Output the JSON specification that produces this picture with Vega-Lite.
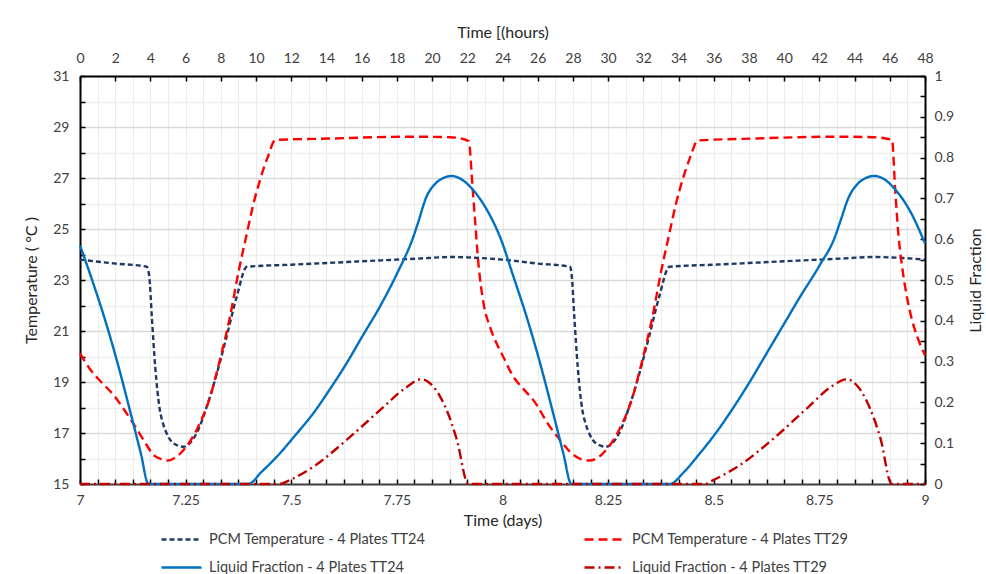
{
  "$schema": "https://vega.github.io/schema/vega-lite/v6.json",
  "width": 845,
  "height": 408,
  "autosize": {"type": "none"},
  "padding": {"left": 80, "top": 76, "right": 61, "bottom": 90},
  "background": "white",
  "config": {
    "font": "Lato",
    "view": {"stroke": null},
    "axis": {
      "labelFont": "Lato",
      "titleFont": "Lato",
      "labelFontSize": 14,
      "titleFontSize": 16,
      "titleFontWeight": "normal",
      "labelColor": "#404040",
      "titleColor": "#262626",
      "tickColor": "#000000",
      "tickWidth": 1.5,
      "domainColor": "#000000",
      "domainWidth": 2
    },
    "legend": {
      "title": null,
      "orient": "none",
      "legendX": 80,
      "legendY": 442,
      "columns": 2,
      "columnPadding": 153,
      "rowPadding": -18,
      "symbolType": "stroke",
      "symbolSize": 1600,
      "symbolStrokeWidth": 2.5,
      "labelFont": "Lato",
      "labelFontSize": 14.5,
      "labelColor": "#404040",
      "labelOffset": 6,
      "labelLimit": 400
    }
  },
  "datasets": {
    "temp": [
      {"s": "PCM Temperature - 4 Plates TT24", "d": 7.0, "v": 23.8},
      {"s": "PCM Temperature - 4 Plates TT24", "d": 7.08, "v": 23.65},
      {"s": "PCM Temperature - 4 Plates TT24", "d": 7.158, "v": 23.52},
      {"s": "PCM Temperature - 4 Plates TT24", "d": 7.164, "v": 23.13},
      {"s": "PCM Temperature - 4 Plates TT24", "d": 7.17, "v": 21.56},
      {"s": "PCM Temperature - 4 Plates TT24", "d": 7.178, "v": 19.6},
      {"s": "PCM Temperature - 4 Plates TT24", "d": 7.189, "v": 17.9},
      {"s": "PCM Temperature - 4 Plates TT24", "d": 7.197, "v": 17.35},
      {"s": "PCM Temperature - 4 Plates TT24", "d": 7.205, "v": 16.99},
      {"s": "PCM Temperature - 4 Plates TT24", "d": 7.221, "v": 16.6},
      {"s": "PCM Temperature - 4 Plates TT24", "d": 7.245, "v": 16.46},
      {"s": "PCM Temperature - 4 Plates TT24", "d": 7.26, "v": 16.6},
      {"s": "PCM Temperature - 4 Plates TT24", "d": 7.276, "v": 16.99},
      {"s": "PCM Temperature - 4 Plates TT24", "d": 7.3, "v": 18.03},
      {"s": "PCM Temperature - 4 Plates TT24", "d": 7.324, "v": 19.34},
      {"s": "PCM Temperature - 4 Plates TT24", "d": 7.347, "v": 20.78},
      {"s": "PCM Temperature - 4 Plates TT24", "d": 7.371, "v": 22.35},
      {"s": "PCM Temperature - 4 Plates TT24", "d": 7.395, "v": 23.52},
      {"s": "PCM Temperature - 4 Plates TT24", "d": 7.5, "v": 23.6},
      {"s": "PCM Temperature - 4 Plates TT24", "d": 7.6, "v": 23.68},
      {"s": "PCM Temperature - 4 Plates TT24", "d": 7.7, "v": 23.76},
      {"s": "PCM Temperature - 4 Plates TT24", "d": 7.8, "v": 23.84},
      {"s": "PCM Temperature - 4 Plates TT24", "d": 7.88, "v": 23.9},
      {"s": "PCM Temperature - 4 Plates TT24", "d": 7.95, "v": 23.86},
      {"s": "PCM Temperature - 4 Plates TT24", "d": 8.0, "v": 23.8},
      {"s": "PCM Temperature - 4 Plates TT24", "d": 8.08, "v": 23.65},
      {"s": "PCM Temperature - 4 Plates TT24", "d": 8.16, "v": 23.52},
      {"s": "PCM Temperature - 4 Plates TT24", "d": 8.164, "v": 23.13},
      {"s": "PCM Temperature - 4 Plates TT24", "d": 8.17, "v": 21.56},
      {"s": "PCM Temperature - 4 Plates TT24", "d": 8.178, "v": 19.6},
      {"s": "PCM Temperature - 4 Plates TT24", "d": 8.189, "v": 17.9},
      {"s": "PCM Temperature - 4 Plates TT24", "d": 8.197, "v": 17.35},
      {"s": "PCM Temperature - 4 Plates TT24", "d": 8.205, "v": 16.99},
      {"s": "PCM Temperature - 4 Plates TT24", "d": 8.221, "v": 16.6},
      {"s": "PCM Temperature - 4 Plates TT24", "d": 8.245, "v": 16.46},
      {"s": "PCM Temperature - 4 Plates TT24", "d": 8.26, "v": 16.6},
      {"s": "PCM Temperature - 4 Plates TT24", "d": 8.276, "v": 16.99},
      {"s": "PCM Temperature - 4 Plates TT24", "d": 8.3, "v": 18.03},
      {"s": "PCM Temperature - 4 Plates TT24", "d": 8.324, "v": 19.34},
      {"s": "PCM Temperature - 4 Plates TT24", "d": 8.347, "v": 20.78},
      {"s": "PCM Temperature - 4 Plates TT24", "d": 8.371, "v": 22.35},
      {"s": "PCM Temperature - 4 Plates TT24", "d": 8.395, "v": 23.52},
      {"s": "PCM Temperature - 4 Plates TT24", "d": 8.5, "v": 23.6},
      {"s": "PCM Temperature - 4 Plates TT24", "d": 8.6, "v": 23.68},
      {"s": "PCM Temperature - 4 Plates TT24", "d": 8.7, "v": 23.76},
      {"s": "PCM Temperature - 4 Plates TT24", "d": 8.8, "v": 23.84},
      {"s": "PCM Temperature - 4 Plates TT24", "d": 8.88, "v": 23.9},
      {"s": "PCM Temperature - 4 Plates TT24", "d": 8.95, "v": 23.86},
      {"s": "PCM Temperature - 4 Plates TT24", "d": 9.0, "v": 23.8},

      {"s": "PCM Temperature - 4 Plates TT29", "d": 7.0, "v": 20.12},
      {"s": "PCM Temperature - 4 Plates TT29", "d": 7.026, "v": 19.45},
      {"s": "PCM Temperature - 4 Plates TT29", "d": 7.05, "v": 19.0},
      {"s": "PCM Temperature - 4 Plates TT29", "d": 7.079, "v": 18.5},
      {"s": "PCM Temperature - 4 Plates TT29", "d": 7.105, "v": 17.9},
      {"s": "PCM Temperature - 4 Plates TT29", "d": 7.126, "v": 17.38},
      {"s": "PCM Temperature - 4 Plates TT29", "d": 7.142, "v": 16.95},
      {"s": "PCM Temperature - 4 Plates TT29", "d": 7.158, "v": 16.52},
      {"s": "PCM Temperature - 4 Plates TT29", "d": 7.175, "v": 16.12},
      {"s": "PCM Temperature - 4 Plates TT29", "d": 7.189, "v": 16.0},
      {"s": "PCM Temperature - 4 Plates TT29", "d": 7.207, "v": 15.92},
      {"s": "PCM Temperature - 4 Plates TT29", "d": 7.222, "v": 16.0},
      {"s": "PCM Temperature - 4 Plates TT29", "d": 7.245, "v": 16.33},
      {"s": "PCM Temperature - 4 Plates TT29", "d": 7.276, "v": 17.12},
      {"s": "PCM Temperature - 4 Plates TT29", "d": 7.308, "v": 18.42},
      {"s": "PCM Temperature - 4 Plates TT29", "d": 7.331, "v": 19.86},
      {"s": "PCM Temperature - 4 Plates TT29", "d": 7.355, "v": 21.56},
      {"s": "PCM Temperature - 4 Plates TT29", "d": 7.375, "v": 23.3},
      {"s": "PCM Temperature - 4 Plates TT29", "d": 7.395, "v": 24.83},
      {"s": "PCM Temperature - 4 Plates TT29", "d": 7.41, "v": 25.95},
      {"s": "PCM Temperature - 4 Plates TT29", "d": 7.426, "v": 26.92},
      {"s": "PCM Temperature - 4 Plates TT29", "d": 7.445, "v": 27.85},
      {"s": "PCM Temperature - 4 Plates TT29", "d": 7.462, "v": 28.49},
      {"s": "PCM Temperature - 4 Plates TT29", "d": 7.6, "v": 28.55},
      {"s": "PCM Temperature - 4 Plates TT29", "d": 7.7, "v": 28.6},
      {"s": "PCM Temperature - 4 Plates TT29", "d": 7.789, "v": 28.62},
      {"s": "PCM Temperature - 4 Plates TT29", "d": 7.876, "v": 28.6},
      {"s": "PCM Temperature - 4 Plates TT29", "d": 7.92, "v": 28.45},
      {"s": "PCM Temperature - 4 Plates TT29", "d": 7.929, "v": 26.66},
      {"s": "PCM Temperature - 4 Plates TT29", "d": 7.935, "v": 25.35},
      {"s": "PCM Temperature - 4 Plates TT29", "d": 7.943, "v": 23.65},
      {"s": "PCM Temperature - 4 Plates TT29", "d": 7.955, "v": 22.09},
      {"s": "PCM Temperature - 4 Plates TT29", "d": 7.97, "v": 21.17},
      {"s": "PCM Temperature - 4 Plates TT29", "d": 7.985, "v": 20.55},
      {"s": "PCM Temperature - 4 Plates TT29", "d": 8.0, "v": 20.05},
      {"s": "PCM Temperature - 4 Plates TT29", "d": 8.026, "v": 19.2},
      {"s": "PCM Temperature - 4 Plates TT29", "d": 8.05, "v": 18.72},
      {"s": "PCM Temperature - 4 Plates TT29", "d": 8.073, "v": 18.29},
      {"s": "PCM Temperature - 4 Plates TT29", "d": 8.112, "v": 17.25},
      {"s": "PCM Temperature - 4 Plates TT29", "d": 8.136, "v": 16.73},
      {"s": "PCM Temperature - 4 Plates TT29", "d": 8.168, "v": 16.14},
      {"s": "PCM Temperature - 4 Plates TT29", "d": 8.185, "v": 15.98},
      {"s": "PCM Temperature - 4 Plates TT29", "d": 8.205, "v": 15.92},
      {"s": "PCM Temperature - 4 Plates TT29", "d": 8.222, "v": 16.0},
      {"s": "PCM Temperature - 4 Plates TT29", "d": 8.245, "v": 16.33},
      {"s": "PCM Temperature - 4 Plates TT29", "d": 8.276, "v": 17.12},
      {"s": "PCM Temperature - 4 Plates TT29", "d": 8.308, "v": 18.42},
      {"s": "PCM Temperature - 4 Plates TT29", "d": 8.331, "v": 19.86},
      {"s": "PCM Temperature - 4 Plates TT29", "d": 8.355, "v": 21.56},
      {"s": "PCM Temperature - 4 Plates TT29", "d": 8.375, "v": 23.3},
      {"s": "PCM Temperature - 4 Plates TT29", "d": 8.395, "v": 24.83},
      {"s": "PCM Temperature - 4 Plates TT29", "d": 8.41, "v": 25.95},
      {"s": "PCM Temperature - 4 Plates TT29", "d": 8.426, "v": 26.92},
      {"s": "PCM Temperature - 4 Plates TT29", "d": 8.445, "v": 27.85},
      {"s": "PCM Temperature - 4 Plates TT29", "d": 8.462, "v": 28.47},
      {"s": "PCM Temperature - 4 Plates TT29", "d": 8.6, "v": 28.55},
      {"s": "PCM Temperature - 4 Plates TT29", "d": 8.7, "v": 28.6},
      {"s": "PCM Temperature - 4 Plates TT29", "d": 8.789, "v": 28.62},
      {"s": "PCM Temperature - 4 Plates TT29", "d": 8.876, "v": 28.6},
      {"s": "PCM Temperature - 4 Plates TT29", "d": 8.922, "v": 28.5},
      {"s": "PCM Temperature - 4 Plates TT29", "d": 8.929, "v": 26.66},
      {"s": "PCM Temperature - 4 Plates TT29", "d": 8.937, "v": 24.8},
      {"s": "PCM Temperature - 4 Plates TT29", "d": 8.946, "v": 23.5},
      {"s": "PCM Temperature - 4 Plates TT29", "d": 8.96, "v": 22.1},
      {"s": "PCM Temperature - 4 Plates TT29", "d": 8.975, "v": 21.1},
      {"s": "PCM Temperature - 4 Plates TT29", "d": 8.988, "v": 20.5},
      {"s": "PCM Temperature - 4 Plates TT29", "d": 9.0, "v": 20.05}
    ],
    "lf": [
      {"s": "Liquid Fraction - 4 Plates TT24", "d": 7.0, "v": 0.585},
      {"s": "Liquid Fraction - 4 Plates TT24", "d": 7.026, "v": 0.508},
      {"s": "Liquid Fraction - 4 Plates TT24", "d": 7.057, "v": 0.41},
      {"s": "Liquid Fraction - 4 Plates TT24", "d": 7.089, "v": 0.296},
      {"s": "Liquid Fraction - 4 Plates TT24", "d": 7.12, "v": 0.173},
      {"s": "Liquid Fraction - 4 Plates TT24", "d": 7.144, "v": 0.075},
      {"s": "Liquid Fraction - 4 Plates TT24", "d": 7.162, "v": 0.0},
      {"s": "Liquid Fraction - 4 Plates TT24", "d": 7.398, "v": 0.0},
      {"s": "Liquid Fraction - 4 Plates TT24", "d": 7.43, "v": 0.03},
      {"s": "Liquid Fraction - 4 Plates TT24", "d": 7.473, "v": 0.075},
      {"s": "Liquid Fraction - 4 Plates TT24", "d": 7.51, "v": 0.12},
      {"s": "Liquid Fraction - 4 Plates TT24", "d": 7.552, "v": 0.173},
      {"s": "Liquid Fraction - 4 Plates TT24", "d": 7.59, "v": 0.23},
      {"s": "Liquid Fraction - 4 Plates TT24", "d": 7.631, "v": 0.296},
      {"s": "Liquid Fraction - 4 Plates TT24", "d": 7.67, "v": 0.365},
      {"s": "Liquid Fraction - 4 Plates TT24", "d": 7.71, "v": 0.435},
      {"s": "Liquid Fraction - 4 Plates TT24", "d": 7.75, "v": 0.515},
      {"s": "Liquid Fraction - 4 Plates TT24", "d": 7.789, "v": 0.606},
      {"s": "Liquid Fraction - 4 Plates TT24", "d": 7.8, "v": 0.64},
      {"s": "Liquid Fraction - 4 Plates TT24", "d": 7.82, "v": 0.704},
      {"s": "Liquid Fraction - 4 Plates TT24", "d": 7.84, "v": 0.735},
      {"s": "Liquid Fraction - 4 Plates TT24", "d": 7.86, "v": 0.75},
      {"s": "Liquid Fraction - 4 Plates TT24", "d": 7.88, "v": 0.755},
      {"s": "Liquid Fraction - 4 Plates TT24", "d": 7.899, "v": 0.749},
      {"s": "Liquid Fraction - 4 Plates TT24", "d": 7.931, "v": 0.72},
      {"s": "Liquid Fraction - 4 Plates TT24", "d": 7.963, "v": 0.672},
      {"s": "Liquid Fraction - 4 Plates TT24", "d": 7.994, "v": 0.606},
      {"s": "Liquid Fraction - 4 Plates TT24", "d": 8.026, "v": 0.508},
      {"s": "Liquid Fraction - 4 Plates TT24", "d": 8.057, "v": 0.41},
      {"s": "Liquid Fraction - 4 Plates TT24", "d": 8.089, "v": 0.296},
      {"s": "Liquid Fraction - 4 Plates TT24", "d": 8.12, "v": 0.173},
      {"s": "Liquid Fraction - 4 Plates TT24", "d": 8.144, "v": 0.075},
      {"s": "Liquid Fraction - 4 Plates TT24", "d": 8.163, "v": 0.0},
      {"s": "Liquid Fraction - 4 Plates TT24", "d": 8.396, "v": 0.0},
      {"s": "Liquid Fraction - 4 Plates TT24", "d": 8.43, "v": 0.03},
      {"s": "Liquid Fraction - 4 Plates TT24", "d": 8.467, "v": 0.075},
      {"s": "Liquid Fraction - 4 Plates TT24", "d": 8.505, "v": 0.125},
      {"s": "Liquid Fraction - 4 Plates TT24", "d": 8.545, "v": 0.185},
      {"s": "Liquid Fraction - 4 Plates TT24", "d": 8.585, "v": 0.25},
      {"s": "Liquid Fraction - 4 Plates TT24", "d": 8.625, "v": 0.32},
      {"s": "Liquid Fraction - 4 Plates TT24", "d": 8.665, "v": 0.39},
      {"s": "Liquid Fraction - 4 Plates TT24", "d": 8.705, "v": 0.46},
      {"s": "Liquid Fraction - 4 Plates TT24", "d": 8.75, "v": 0.535},
      {"s": "Liquid Fraction - 4 Plates TT24", "d": 8.787, "v": 0.606},
      {"s": "Liquid Fraction - 4 Plates TT24", "d": 8.8, "v": 0.645},
      {"s": "Liquid Fraction - 4 Plates TT24", "d": 8.82, "v": 0.704},
      {"s": "Liquid Fraction - 4 Plates TT24", "d": 8.84, "v": 0.735},
      {"s": "Liquid Fraction - 4 Plates TT24", "d": 8.86, "v": 0.75},
      {"s": "Liquid Fraction - 4 Plates TT24", "d": 8.88, "v": 0.755},
      {"s": "Liquid Fraction - 4 Plates TT24", "d": 8.9, "v": 0.749},
      {"s": "Liquid Fraction - 4 Plates TT24", "d": 8.931, "v": 0.72},
      {"s": "Liquid Fraction - 4 Plates TT24", "d": 8.963, "v": 0.672},
      {"s": "Liquid Fraction - 4 Plates TT24", "d": 9.0, "v": 0.59},

      {"s": "Liquid Fraction - 4 Plates TT29", "d": 7.0, "v": 0.0},
      {"s": "Liquid Fraction - 4 Plates TT29", "d": 7.473, "v": 0.0},
      {"s": "Liquid Fraction - 4 Plates TT29", "d": 7.497, "v": 0.01},
      {"s": "Liquid Fraction - 4 Plates TT29", "d": 7.552, "v": 0.042},
      {"s": "Liquid Fraction - 4 Plates TT29", "d": 7.631, "v": 0.108},
      {"s": "Liquid Fraction - 4 Plates TT29", "d": 7.71, "v": 0.181},
      {"s": "Liquid Fraction - 4 Plates TT29", "d": 7.77, "v": 0.235},
      {"s": "Liquid Fraction - 4 Plates TT29", "d": 7.808, "v": 0.257},
      {"s": "Liquid Fraction - 4 Plates TT29", "d": 7.822, "v": 0.252},
      {"s": "Liquid Fraction - 4 Plates TT29", "d": 7.836, "v": 0.239},
      {"s": "Liquid Fraction - 4 Plates TT29", "d": 7.852, "v": 0.215},
      {"s": "Liquid Fraction - 4 Plates TT29", "d": 7.868, "v": 0.181},
      {"s": "Liquid Fraction - 4 Plates TT29", "d": 7.892, "v": 0.108},
      {"s": "Liquid Fraction - 4 Plates TT29", "d": 7.919, "v": 0.0},
      {"s": "Liquid Fraction - 4 Plates TT29", "d": 8.48, "v": 0.0},
      {"s": "Liquid Fraction - 4 Plates TT29", "d": 8.5, "v": 0.01},
      {"s": "Liquid Fraction - 4 Plates TT29", "d": 8.56, "v": 0.045},
      {"s": "Liquid Fraction - 4 Plates TT29", "d": 8.64, "v": 0.11},
      {"s": "Liquid Fraction - 4 Plates TT29", "d": 8.72, "v": 0.185},
      {"s": "Liquid Fraction - 4 Plates TT29", "d": 8.78, "v": 0.24},
      {"s": "Liquid Fraction - 4 Plates TT29", "d": 8.815, "v": 0.257},
      {"s": "Liquid Fraction - 4 Plates TT29", "d": 8.84, "v": 0.24},
      {"s": "Liquid Fraction - 4 Plates TT29", "d": 8.87, "v": 0.185},
      {"s": "Liquid Fraction - 4 Plates TT29", "d": 8.895, "v": 0.11},
      {"s": "Liquid Fraction - 4 Plates TT29", "d": 8.921, "v": 0.0},
      {"s": "Liquid Fraction - 4 Plates TT29", "d": 9.0, "v": 0.0}
    ],
    "hours": [{"h": 0}, {"h": 48}]
  },
  "layer": [
    {
      "data": {"name": "temp"},
      "mark": {"type": "line", "strokeWidth": 2.4, "interpolate": "monotone"},
      "encoding": {
        "x": {
          "field": "d", "type": "quantitative",
          "scale": {"domain": [7, 9], "nice": false, "zero": false},
          "axis": {
            "orient": "bottom",
            "title": "Time (days)",
            "values": [7, 7.041667, 7.083333, 7.125, 7.166667, 7.208333, 7.25, 7.291667, 7.333333, 7.375, 7.416667, 7.458333, 7.5, 7.541667, 7.583333, 7.625, 7.666667, 7.708333, 7.75, 7.791667, 7.833333, 7.875, 7.916667, 7.958333, 8, 8.041667, 8.083333, 8.125, 8.166667, 8.208333, 8.25, 8.291667, 8.333333, 8.375, 8.416667, 8.458333, 8.5, 8.541667, 8.583333, 8.625, 8.666667, 8.708333, 8.75, 8.791667, 8.833333, 8.875, 8.916667, 8.958333, 9],
            "labelExpr": "abs(datum.value*4 - round(datum.value*4)) < 0.001 ? format(datum.value, '~g') : ''",
            "grid": true,
            "gridColor": "#ebebeb",
            "gridWidth": 1,
            "tickSize": -5,
            "labelPadding": 14,
            "labelFlush": false,
            "labelOverlap": false,
            "domainColor": "#404040",
            "titlePadding": 5
          }
        },
        "y": {
          "field": "v", "type": "quantitative",
          "scale": {"domain": [15, 31], "nice": false, "zero": false},
          "axis": {
            "orient": "left",
            "title": "Temperature ( °C )",
            "values": [15, 16, 17, 18, 19, 20, 21, 22, 23, 24, 25, 26, 27, 28, 29, 30, 31],
            "labelExpr": "datum.value % 2 == 1 ? datum.label : ''",
            "grid": true,
            "gridColor": {"condition": {"test": "datum.value % 2 == 1", "value": "#d9d9d9"}, "value": "#f0f0f0"},
            "gridWidth": 1.3,
            "tickSize": -5,
            "labelPadding": 16,
            "labelFlush": false,
            "labelOverlap": false,
            "titlePadding": 13
          }
        },
        "color": {
          "field": "s", "type": "nominal",
          "scale": {
            "domain": ["PCM Temperature - 4 Plates TT24", "Liquid Fraction - 4 Plates TT24", "PCM Temperature - 4 Plates TT29", "Liquid Fraction - 4 Plates TT29"],
            "range": ["#203864", "#0070C0", "#FF0000", "#C00000"]
          }
        },
        "strokeDash": {
          "field": "s", "type": "nominal",
          "scale": {
            "domain": ["PCM Temperature - 4 Plates TT24", "Liquid Fraction - 4 Plates TT24", "PCM Temperature - 4 Plates TT29", "Liquid Fraction - 4 Plates TT29"],
            "range": [[5, 3], [1, 0], [9, 5], [10, 4, 2, 4]]
          }
        }
      }
    },
    {
      "data": {"name": "lf"},
      "mark": {"type": "line", "strokeWidth": 2.4, "interpolate": "monotone"},
      "encoding": {
        "x": {
          "field": "d", "type": "quantitative",
          "scale": {"domain": [7, 9], "nice": false, "zero": false},
          "axis": null
        },
        "y": {
          "field": "v", "type": "quantitative",
          "scale": {"domain": [0, 1], "nice": false, "zero": false},
          "axis": {
            "orient": "right",
            "title": "Liquid Fraction",
            "titleAngle": 270,
            "values": [0, 0.05, 0.1, 0.15, 0.2, 0.25, 0.3, 0.35, 0.4, 0.45, 0.5, 0.55, 0.6, 0.65, 0.7, 0.75, 0.8, 0.85, 0.9, 0.95, 1],
            "labelExpr": "abs(datum.value*10 - round(datum.value*10)) < 0.001 ? format(datum.value, '.1~f') : ''",
            "grid": false,
            "tickSize": -5,
            "labelPadding": 14,
            "labelFlush": false,
            "labelOverlap": false,
            "titlePadding": 30
          }
        },
        "color": {
          "field": "s", "type": "nominal",
          "scale": {
            "domain": ["PCM Temperature - 4 Plates TT24", "Liquid Fraction - 4 Plates TT24", "PCM Temperature - 4 Plates TT29", "Liquid Fraction - 4 Plates TT29"],
            "range": ["#203864", "#0070C0", "#FF0000", "#C00000"]
          }
        },
        "strokeDash": {
          "field": "s", "type": "nominal",
          "scale": {
            "domain": ["PCM Temperature - 4 Plates TT24", "Liquid Fraction - 4 Plates TT24", "PCM Temperature - 4 Plates TT29", "Liquid Fraction - 4 Plates TT29"],
            "range": [[5, 3], [1, 0], [9, 5], [10, 4, 2, 4]]
          }
        }
      }
    },
    {
      "data": {"name": "hours"},
      "mark": {"type": "rule", "opacity": 0},
      "encoding": {
        "x": {
          "field": "h", "type": "quantitative",
          "scale": {"domain": [0, 48], "nice": false, "zero": false},
          "axis": {
            "orient": "top",
            "title": "Time [(hours)",
            "values": [0, 2, 4, 6, 8, 10, 12, 14, 16, 18, 20, 22, 24, 26, 28, 30, 32, 34, 36, 38, 40, 42, 44, 46, 48],
            "grid": false,
            "tickSize": -5,
            "labelPadding": 16,
            "labelFlush": false,
            "labelOverlap": false,
            "titlePadding": 11
          }
        }
      }
    }
  ],
  "resolve": {"scale": {"x": "independent", "y": "independent"}}
}
